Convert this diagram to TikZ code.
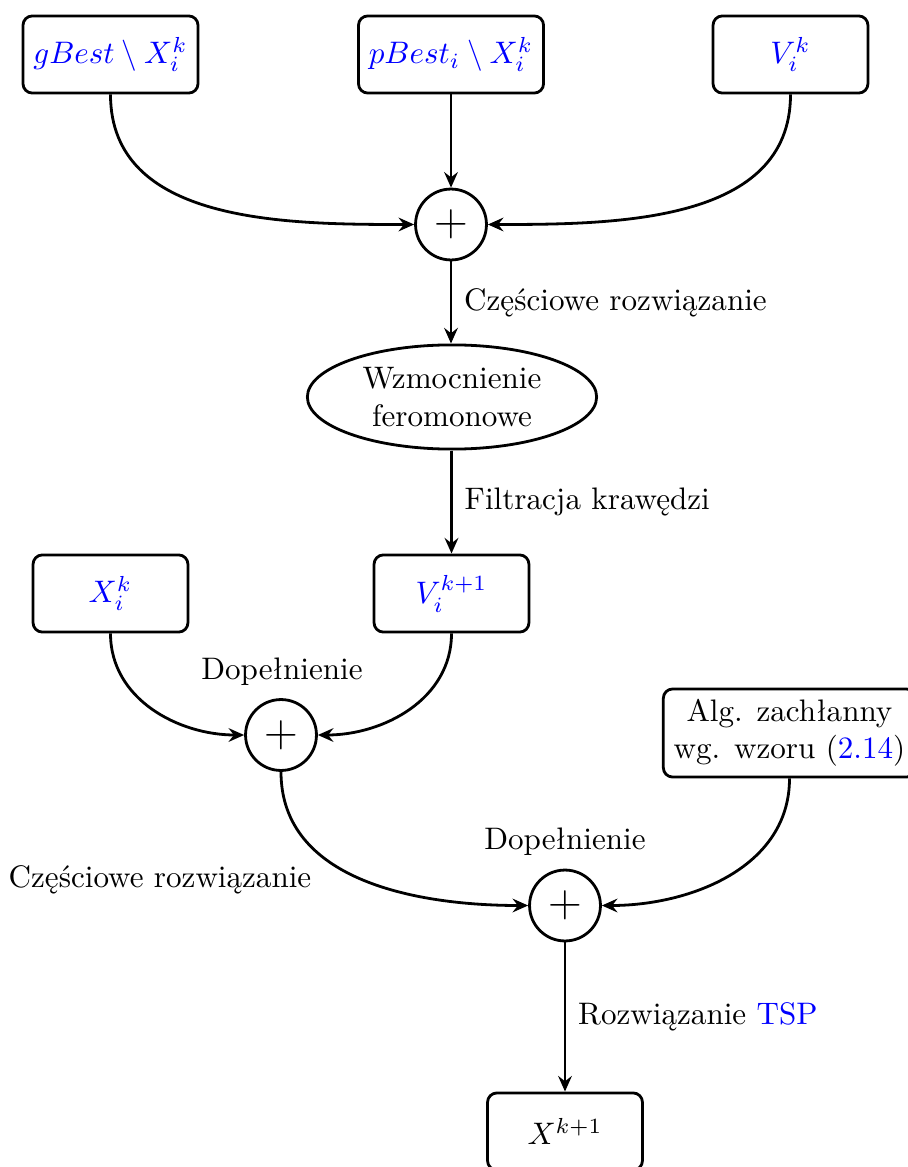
\documentclass[tikz,border=0pt]{standalone}
\usepackage{fontspec}
\usetikzlibrary{arrows.meta,shapes.geometric}
\begin{document}
\begin{tikzpicture}[x=0.3215pt,y=-0.3215pt,
  line width=0.9pt,
  box/.style={draw,rounded corners=3pt,minimum width=49.8pt,minimum height=24.8pt,inner sep=3.33pt,font=\color{blue}},
  plain/.style={draw,rounded corners=3pt,minimum width=49.8pt,minimum height=24.8pt,align=center},
  sumnode/.style={draw,circle,minimum size=22.8pt,inner sep=0pt,font=\fontsize{15}{15}\selectfont},
  arr/.style={-{Stealth[length=5pt,width=4.4pt,inset=1.7pt]}},
  lbl/.style={inner sep=0pt}]
\useasboundingbox (0,0) rectangle (908,1167);
% top row
\node[box] (g) at (110.5,54.5) {$gBest\setminus X_i^k$};
\node[box] (p) at (451,54.5) {$pBest_i\setminus X_i^k$};
\node[box] (v) at (790.5,54.5) {$V_i^k$};
\node[sumnode] (s1) at (451,224.5) {$+$};
\node[draw,ellipse,minimum width=93pt,minimum height=33.5pt,inner sep=0pt,align=center] (e) at (452,397) {Wzmocnienie\\feromonowe};
\node[box] (x) at (110.5,593.5) {$X_i^k$};
\node[box] (vn) at (451.5,593.5) {$V_i^{k+1}$};
\node[sumnode] (s2) at (281,735) {$+$};
\node[plain] (alg) at (789.5,733) {Alg. zachłanny\\wg. wzoru (\textcolor{blue}{2.14})};
\node[sumnode] (s3) at (565,905.5) {$+$};
\node[plain] (res) at (565,1131.5) {$X^{k+1}$};
% free labels
\node[lbl] (d1) at (282,672) {Dopełnienie};
\node[lbl] (d2) at (565,842) {Dopełnienie};
\node[lbl] (c2) at (160,880) {Częściowe rozwiązanie};
% connectors
\draw[arr] (g.south) to[out=-90,in=180] (s1.west);
\draw[arr] (p.south) -- (s1.north);
\draw[arr] (v.south) to[out=-90,in=0] (s1.east);
\draw[arr] (s1.south) -- node[right,inner sep=3.8pt] {Częściowe rozwiązanie} (s1.south |- e.north);
\draw[arr] (e.south -| vn.north) -- node[right,inner sep=3.8pt] {Filtracja krawędzi} (vn.north);
\draw[arr] (x.south) to[out=-90,in=180] (s2.west);
\draw[arr] (vn.south) to[out=-90,in=0] (s2.east);
\draw[arr] (s2.south) to[out=-90,in=180] (s3.west);
\draw[arr] (alg.south) to[out=-90,in=0] (s3.east);
\draw[arr] (s3.south) -- node[right,inner sep=3.8pt] {Rozwiązanie \textcolor{blue}{TSP}} (res.north);
\end{tikzpicture}
\end{document}
